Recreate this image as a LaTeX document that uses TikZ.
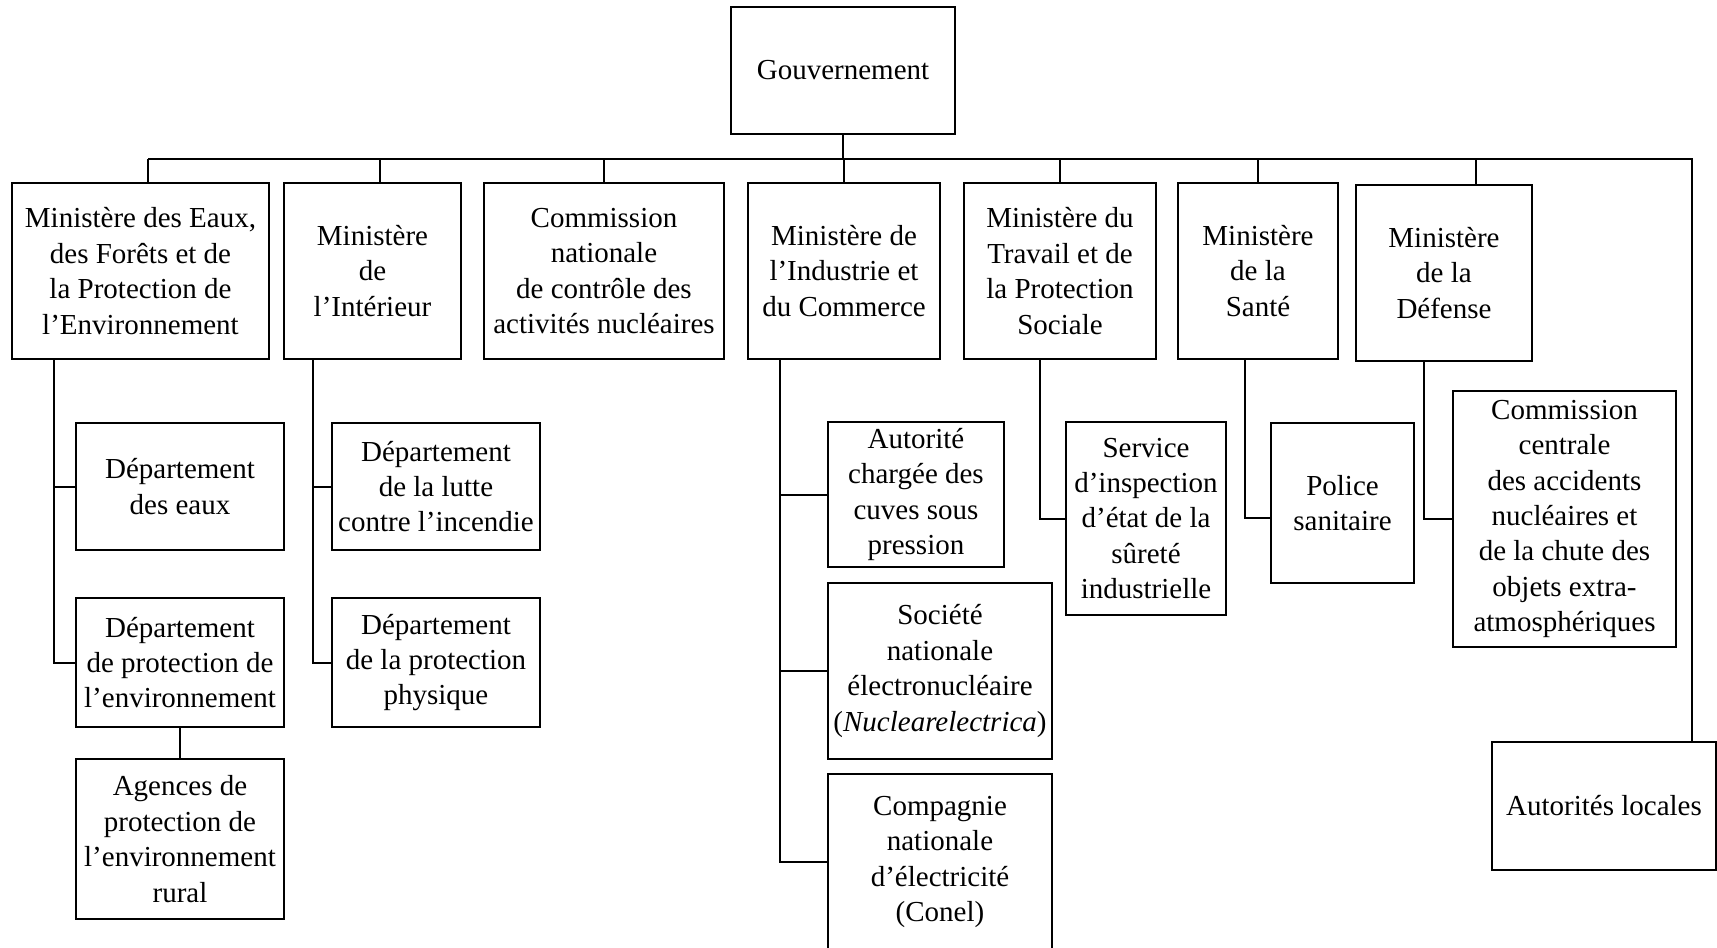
\documentclass[tikz,border=0pt]{standalone}
\usepackage{fontspec}
\setmainfont{Liberation Serif}

\begin{document}
\begin{tikzpicture}[x=1pt,y=-1pt,
	link/.style={line width=2pt},
	org box/.style={draw,line width=2pt,anchor=north west,align=center,
		inner sep=0pt,outer sep=0pt,font=\fontsize{29}{35.4}\selectfont}]

	\useasboundingbox (0,0) rectangle (1717,948);

	\node[org box,minimum width=224pt,minimum height=127pt] (gov) at (731,7) {Gouvernement};

	% ministeres
	\node[org box,minimum width=257pt,minimum height=176pt] (mEaux) at (12,183)
		{Ministère des Eaux,\\des Forêts et de\\la Protection de\\l’Environnement};
	\node[org box,minimum width=177pt,minimum height=176pt] (mInt) at (284,183)
		{Ministère\\de\\l’Intérieur};
	\node[org box,minimum width=240pt,minimum height=176pt] (cncan) at (484,183)
		{Commission\\nationale\\de contrôle des\\activités nucléaires};
	\node[org box,minimum width=192pt,minimum height=176pt] (mInd) at (748,183)
		{Ministère de\\l’Industrie et\\du Commerce};
	\node[org box,minimum width=192pt,minimum height=176pt] (mTrav) at (964,183)
		{Ministère du\\Travail et de\\la Protection\\Sociale};
	\node[org box,minimum width=160pt,minimum height=176pt] (mSante) at (1178,183)
		{Ministère\\de la\\Santé};
	\node[org box,minimum width=176pt,minimum height=176pt] (mDef) at (1356,185)
		{Ministère\\de la\\Défense};

	% services
	\node[org box,minimum width=208pt,minimum height=127pt] (dEaux) at (76,423)
		{Département\\des eaux};
	\node[org box,minimum width=208pt,minimum height=129pt] (dEnv) at (76,598)
		{Département\\de protection de\\l’environnement};
	\node[org box,minimum width=208pt,minimum height=160pt] (agences) at (76,759)
		{Agences de\\protection de\\l’environnement\\rural};
	\node[org box,minimum width=208pt,minimum height=127pt] (dFeu) at (332,423)
		{Département\\de la lutte\\contre l’incendie};
	\node[org box,minimum width=208pt,minimum height=129pt] (dPhys) at (332,598)
		{Département\\de la protection\\physique};
	\node[org box,minimum width=176pt,minimum height=145pt] (cuves) at (828,422)
		{Autorité\\chargée des\\cuves sous\\pression};
	\node[org box,minimum width=224pt,minimum height=176pt] (snn) at (828,583)
		{Société\\nationale\\électronucléaire\\(\textit{Nuclearelectrica})};
	\node[org box,minimum width=224pt,minimum height=176pt] (conel) at (828,774)
		{Compagnie\\nationale\\d’électricité\\(Conel)};
	\node[org box,minimum width=160pt,minimum height=193pt] (siset) at (1066,422)
		{Service\\d’inspection\\d’état de la\\sûreté\\industrielle};
	\node[org box,minimum width=143pt,minimum height=160pt] (police) at (1271,423)
		{Police\\sanitaire};
	\node[org box,minimum width=223pt,minimum height=256pt] (ccan) at (1453,391)
		{Commission\\centrale\\des accidents\\nucléaires et\\de la chute des\\objets extra-\\atmosphériques};
	\node[org box,minimum width=224pt,minimum height=128pt] (autLoc) at (1492,742)
		{Autorités locales};

	% barre sous le gouvernement
	\coordinate (bus) at (0,159);
	\coordinate (busEnd) at (1692,159);
	\coordinate (sEaux) at ([xshift=7.5pt]mEaux.north);
	\coordinate (sInt) at ([xshift=7.5pt]mInt.north);
	\coordinate (sDef) at ([xshift=32pt]mDef.north);

	\draw[link] (gov) -- (gov |- bus)
		(sEaux |- bus) -- (busEnd) -- (busEnd |- autLoc.north)
		(sEaux) -- (sEaux |- bus)
		(sInt) -- (sInt |- bus)
		(cncan) -- (cncan |- bus)
		(mInd) -- (mInd |- bus)
		(mTrav) -- (mTrav |- bus)
		(mSante) -- (mSante |- bus)
		(sDef) -- (sDef |- bus);

	% rattachements
	\coordinate (tEaux) at ([xshift=42pt]mEaux.south west);
	\coordinate (tInt) at ([xshift=29pt]mInt.south west);
	\coordinate (tInd) at ([xshift=32pt]mInd.south west);
	\coordinate (tTrav) at ([xshift=76pt]mTrav.south west);
	\coordinate (tSante) at ([xshift=67pt]mSante.south west);
	\coordinate (tDef) at ([xshift=68pt]mDef.south west);

	\draw[link] (tEaux) |- (dEaux) (tEaux) |- (dEnv) (dEnv) -- (agences)
		(tInt) |- (dFeu) (tInt) |- (dPhys)
		(tInd) |- (cuves) (tInd) |- (snn) (tInd) |- (conel)
		(tTrav) |- (siset)
		(tSante) |- ([yshift=-15pt]police.west)
		(tDef) |- (ccan);

\end{tikzpicture}
\end{document}
